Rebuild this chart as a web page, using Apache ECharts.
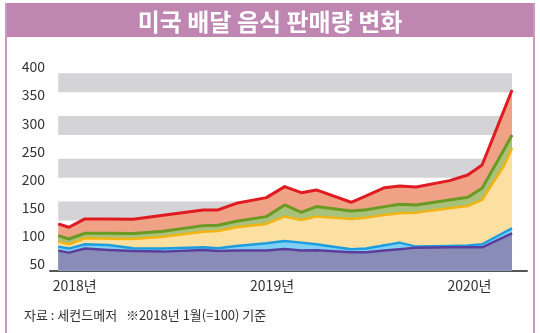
<!DOCTYPE html>
<html>
<head>
<meta charset="utf-8">
<script src="https://cdn.jsdelivr.net/npm/echarts@6/dist/echarts.min.js"></script>
<style>
  html, body { margin: 0; padding: 0; background: #fff; }
  #chart { width: 540px; height: 333px; }
</style>
</head>
<body>
<div id="chart"></div>
<script>
// Month position of each sample (0 = Dec 2017, 1 = Jan 2018, ...)
const months = [0, 0.65, 1.62, 3.04, 4.55, 6.38, 8.81, 9.72, 10.83, 12.65, 13.77, 14.78,
  15.69, 17.81, 18.72, 19.84, 20.75, 21.76, 23.79, 24.9, 25.77, 27.13, 27.59];

// Index values (Jan 2018 = 100), one array per category
const redSeries = [121.1, 115.2, 130.0, 130.0, 129.4, 136.5, 146.0, 146.0, 157.8, 167.9, 187.4, 176.7,
  181.5, 159.6, 170.8, 185.6, 188.6, 186.8, 198.1, 208.1, 225.9, 325.1, 359.1];
const greenSeries = [100.3, 94.4, 104.5, 104.5, 103.9, 108.0, 118.1, 118.7, 125.8, 134.1, 154.8, 141.8,
  151.9, 144.2, 146.5, 151.9, 156.0, 154.8, 163.7, 168.4, 184.4, 254.9, 279.2];
const yellowSeries = [89.7, 84.9, 95.6, 95.0, 94.4, 98.5, 107.4, 108.6, 115.2, 121.1, 134.1, 128.2,
  134.1, 130.0, 132.3, 137.1, 140.0, 141.2, 148.9, 153.0, 163.7, 225.9, 256.1];
const blueSeries = [80.8, 77.3, 85.0, 83.8, 77.8, 77.3, 79.6, 77.8, 81.8, 86.7, 90.9, 87.9,
  85.0, 76.1, 77.3, 83.2, 87.9, 80.8, 81.8, 83.0, 85.0, 106.3, 113.4];
const purpleSeries = [73.7, 70.1, 77.3, 74.9, 73.1, 71.9, 74.9, 73.1, 73.7, 73.7, 76.7, 73.7,
  74.3, 70.7, 70.7, 73.7, 76.1, 79.0, 79.6, 79.6, 79.6, 98.0, 104.5];

// Axis labels
const yearLabels = ['2018년', '2019년', '2020년'];
const yearPositions = [1, 13, 25];
const yTicks = [50, 100, 150, 200, 250, 300, 350, 400];

// Gray background stripes (value ranges)
const stripes = [[355, 389], [279, 313], [203, 237], [127, 161]];

const FONT = '"Noto Sans CJK KR", "Noto Sans", sans-serif';

function pairs(values) {
  return values.map((v, i) => [months[i], v]);
}

function areaSeries(name, values, lineColor, fillColor, width, z) {
  return {
    name: name,
    type: 'line',
    data: pairs(values),
    symbol: 'none',
    z: z,
    silent: true,
    lineStyle: { color: lineColor, width: width, join: 'round' },
    areaStyle: { color: fillColor, opacity: 1, origin: 'start' }
  };
}

const first = months[0];
const last = months[months.length - 1];

const chart = echarts.init(document.getElementById('chart'), null, { renderer: 'canvas' });
chart.setOption({
  animation: false,
  backgroundColor: '#ffffff',
  graphic: [
    { type: 'rect', shape: { x: 5, y: 3, width: 530, height: 34 }, style: { fill: '#c086b2' }, z: 0 },
    { type: 'line', shape: { x1: 6, y1: 3, x2: 6, y2: 333 }, style: { stroke: '#c99bc0', lineWidth: 2 } },
    { type: 'line', shape: { x1: 534, y1: 3, x2: 534, y2: 333 }, style: { stroke: '#c99bc0', lineWidth: 2 } }
  ],
  title: [
    {
      text: '미국 배달 음식 판매량 변화',
      left: 'center',
      top: 5,
      textStyle: { color: '#ffffff', fontSize: 24, fontWeight: 'bold', fontFamily: FONT }
    },
    {
      text: '자료 : 세컨드메저   ※2018년 1월(=100) 기준',
      left: 19,
      top: 304,
      textStyle: { color: '#333333', fontSize: 13, fontWeight: 'normal', fontFamily: FONT }
    }
  ],
  grid: { left: 50, right: 13, top: 67, bottom: 62.3, containLabel: false },
  xAxis: {
    type: 'value',
    min: -0.5,
    max: 28.5,
    axisLine: { show: true, lineStyle: { color: '#555555', width: 2 } },
    axisTick: { show: false },
    splitLine: { show: false },
    axisLabel: {
      customValues: yearPositions,
      formatter: (v) => yearLabels[yearPositions.indexOf(v)] || '',
      color: '#333333',
      fontSize: 14,
      fontFamily: FONT,
      margin: 8
    }
  },
  yAxis: {
    type: 'value',
    min: 38,
    max: 400,
    axisLine: { show: false },
    axisTick: { show: false },
    splitLine: { show: false },
    axisLabel: {
      customValues: yTicks,
      color: '#333333',
      fontSize: 14,
      fontFamily: FONT,
      margin: 5
    }
  },
  series: [
    {
      name: 'stripes',
      type: 'line',
      data: [],
      z: 1,
      silent: true,
      markArea: {
        silent: true,
        itemStyle: { color: '#d4d4d6' },
        data: stripes.map(s => [{ xAxis: first, yAxis: s[0] }, { xAxis: last, yAxis: s[1] }])
      }
    },
    areaSeries('red', redSeries, '#e01b22', '#f0a286', 3, 2),
    areaSeries('green', greenSeries, '#6b9a22', '#a9c27b', 3, 3),
    areaSeries('yellow', yellowSeries, '#f3b311', '#fbe0a2', 2.5, 4),
    areaSeries('blue', blueSeries, '#1d9ce0', '#7ed0f4', 2.5, 5),
    areaSeries('purple', purpleSeries, '#5a3d9c', '#8a8cb8', 2.5, 6)
  ]
});
</script>
</body>
</html>
